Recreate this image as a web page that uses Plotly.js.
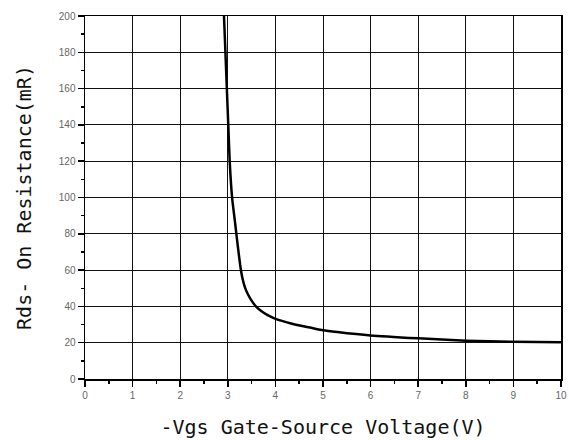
<!DOCTYPE html>
<html>
<head>
<meta charset="utf-8">
<script src="https://cdn.plot.ly/plotly-3.0.1.min.js"></script>
<style>
html, body { margin: 0; padding: 0; background: #fff; }
#chart { width: 569px; height: 440px; }
</style>
</head>
<body>
<div id="chart"></div>
<script>
// -Vgs (V)
var vgs = [2.90, 2.92, 2.95, 2.98, 3.01, 3.04, 3.09, 3.135, 3.18, 3.225, 3.27, 3.31, 3.36, 3.42, 3.48, 3.59, 3.73, 3.91, 4.08, 4.33, 4.54, 4.75, 5.00, 5.30, 6.00, 7.00, 8.00, 9.00, 10.00];
// Rds(on) (mR)
var rds = [212, 200, 180, 160, 140, 120, 100, 90, 80, 70, 61, 55.2, 50.5, 46.8, 44.0, 40, 36.9, 34.2, 32.4, 30.6, 29.3, 28.2, 26.9, 25.9, 24.0, 22.4, 21.1, 20.5, 20.2];

var xTickVals = [0, 1, 2, 3, 4, 5, 6, 7, 8, 9, 10];
var yTickVals = [0, 20, 40, 60, 80, 100, 120, 140, 160, 180, 200];

var titleFont = { family: "DejaVu Sans Mono, Liberation Mono, monospace", size: 20, color: "#111" };
var tickFont = { family: "Liberation Sans, Arial, sans-serif", size: 10, color: "#666" };

var trace = {
  x: vgs,
  y: rds,
  type: "scatter",
  mode: "lines",
  line: { color: "#000", width: 2.5, shape: "spline", smoothing: 0.6 },
  hoverinfo: "skip"
};

var layout = {
  width: 569,
  height: 440,
  margin: { l: 85, r: 8, t: 16, b: 61 },
  paper_bgcolor: "#fff",
  plot_bgcolor: "#fff",
  showlegend: false,
  xaxis: {
    range: [0, 10],
    tickvals: xTickVals,
    ticktext: xTickVals.map(String),
    ticks: "outside",
    ticklen: 6,
    tickwidth: 1.5,
    tickcolor: "#000",
    showline: true,
    linecolor: "#000",
    linewidth: 1.5,
    mirror: true,
    showgrid: true,
    gridcolor: "#111",
    gridwidth: 1,
    zeroline: false,
    tickfont: tickFont,
    minor: { dtick: 0.5, tick0: 0, ticks: "outside", ticklen: 3, tickwidth: 1.5, tickcolor: "#000", showgrid: false },
    title: { text: "-Vgs Gate-Source Voltage(V)", font: titleFont, standoff: 20 }
  },
  yaxis: {
    range: [0, 200],
    tickvals: yTickVals,
    ticktext: yTickVals.map(String),
    ticks: "outside",
    ticklen: 6,
    tickwidth: 1.5,
    tickcolor: "#000",
    showline: true,
    linecolor: "#000",
    linewidth: 1.5,
    mirror: true,
    showgrid: true,
    gridcolor: "#111",
    gridwidth: 1,
    zeroline: false,
    tickfont: tickFont,
    minor: { dtick: 10, tick0: 0, ticks: "outside", ticklen: 3, tickwidth: 1.5, tickcolor: "#000", showgrid: false },
    title: { text: "Rds- On Resistance(mR)", font: titleFont, standoff: 22 }
  }
};

Plotly.newPlot("chart", [trace], layout, { displayModeBar: false, staticPlot: true });
</script>
</body>
</html>
